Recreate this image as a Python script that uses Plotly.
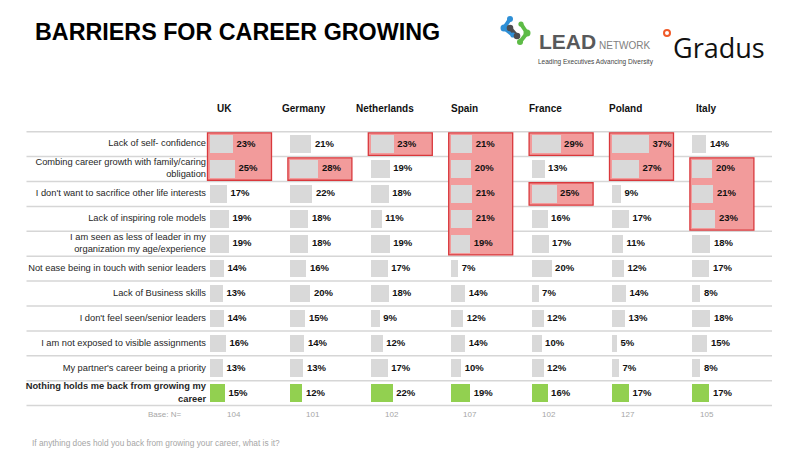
import plotly.graph_objects as go

# ---- data ----
COUNTRIES = ['UK', 'Germany', 'Netherlands', 'Spain', 'France', 'Poland', 'Italy']

BARRIERS = [
    "Lack of self- confidence",
    "Combing career growth with family/caring<br>obligation",
    "I don't want to sacrifice other life interests",
    "Lack of inspiring role models",
    "I am seen as less of leader in my<br>organization my age/experience",
    "Not ease being in touch with senior leaders",
    "Lack of Business skills",
    "I don't feel seen/senior leaders",
    "I am not exposed to visible assignments",
    "My partner's career being a priority",
    "<b>Nothing holds me back from growing my<br>career</b>",
]

uk = [23, 25, 17, 19, 19, 14, 13, 14, 16, 13, 15]
germany = [21, 28, 22, 18, 18, 16, 20, 15, 14, 13, 12]
netherlands = [23, 19, 18, 11, 19, 17, 18, 9, 12, 17, 22]
spain = [21, 20, 21, 21, 19, 7, 14, 12, 14, 10, 19]
france = [29, 13, 25, 16, 17, 20, 7, 12, 10, 12, 16]
poland = [37, 27, 9, 17, 11, 12, 14, 13, 5, 7, 17]
italy = [14, 20, 21, 23, 18, 17, 8, 18, 15, 8, 17]

BASE_N = [104, 101, 102, 107, 102, 127, 105]

# top-3 groups per country (first row, last row)
HIGHLIGHTS = {
    'UK': [(0, 1)],
    'Germany': [(1, 1)],
    'Netherlands': [(0, 0)],
    'Spain': [(0, 4)],
    'France': [(0, 0), (2, 2)],
    'Poland': [(0, 1)],
    'Italy': [(1, 3)],
}

QUESTION = 'If anything does hold you back from growing your career, what is it?'

# ---- styling / layout ----
W, H = 800, 450
OFF = 8           # page body margin, so screen px = plot px + 8
FONT = 'Liberation Sans'
GREY_BAR = '#d9d9d9'
GREEN_BAR = '#92d050'
PINK = '#f29b9b'
RED = '#d9383c'
LINE = '#d6d6d6'

COL_X0 = 210      # screen x of first column bar start (1 unit = 1 px = 1 %)
COL_STEP = 80.4
HEAD_X0, HEAD_STEP = 224, 80.3
BASEN_X0, BASEN_STEP = 234, 78.8

ROW_PX = 24.9     # row height in px
ROW0_PX = 144.15  # screen y of first row centre

series = [uk, germany, netherlands, spain, france, poland, italy]
n_rows = len(BARRIERS)
rows = list(range(n_rows))

y_top = -(ROW0_PX - OFF) / ROW_PX
y_bot = y_top + H / ROW_PX


def px(x):
    return (x - OFF) / W


def py(y):
    return 1 - (y - OFF) / H


fig = go.Figure()

shapes = []
# row separators
for r in range(n_rows + 1):
    shapes.append(dict(type='line', xref='x', yref='y', x0=26.5, x1=772,
                       y0=r - 0.5, y1=r - 0.5, layer='below',
                       line=dict(color=LINE, width=1.5)))

# highlight boxes
for ci, c in enumerate(COUNTRIES):
    base = COL_X0 + COL_STEP * ci
    for r0, r1 in HIGHLIGHTS.get(c, []):
        shapes.append(dict(type='rect', xref='x', yref='y',
                           x0=base - 2.5, x1=base + 61.5,
                           y0=r0 - 0.45, y1=r1 + 0.45, layer='below',
                           fillcolor=PINK, line=dict(color=RED, width=1.3)))

for ci, (c, vals) in enumerate(zip(COUNTRIES, series)):
    base = COL_X0 + COL_STEP * ci
    colors = [GREY_BAR] * (n_rows - 1) + [GREEN_BAR]
    fig.add_trace(go.Bar(y=rows, x=vals, base=[base] * n_rows, orientation='h',
                         width=0.71, marker=dict(color=colors, line=dict(width=0)),
                         showlegend=False, hoverinfo='skip', name=c))
    fig.add_trace(go.Scatter(y=rows, x=[base + v + 3.5 for v in vals], mode='text',
                             text=[f'{v}%' for v in vals], textposition='middle right',
                             textfont=dict(family=FONT, size=9.5, color='#111', weight='bold'),
                             showlegend=False, hoverinfo='skip'))

# row labels
fig.add_trace(go.Scatter(y=rows, x=[206] * n_rows, mode='text', text=BARRIERS,
                         textposition='middle left',
                         textfont=dict(family=FONT, size=9.3, color='#262626'),
                         showlegend=False, hoverinfo='skip'))

ann = []
for ci, c in enumerate(COUNTRIES):
    ann.append(dict(x=HEAD_X0 + HEAD_STEP * ci, y=-1.45, xref='x', yref='y', text=f'<b>{c}</b>',
                    showarrow=False, font=dict(family=FONT, size=10, color='#111')))
    ann.append(dict(x=BASEN_X0 + BASEN_STEP * ci, y=10.84, xref='x', yref='y', text=str(BASE_N[ci]),
                    showarrow=False, font=dict(family=FONT, size=8, color='#a6a6a6')))
ann.append(dict(x=183, y=10.84, xref='x', yref='y', text='Base: N=', xanchor='right',
                showarrow=False, font=dict(family=FONT, size=8, color='#a6a6a6')))
ann.append(dict(x=px(30), y=py(443), xref='paper', yref='paper', text=QUESTION,
                xanchor='left', yanchor='middle', showarrow=False,
                font=dict(family=FONT, size=8.3, color='#a6a6a6')))
# title
ann.append(dict(x=px(33), y=py(32), xref='paper', yref='paper', text='<b>BARRIERS FOR CAREER GROWING</b>',
                xanchor='left', yanchor='middle', showarrow=False,
                font=dict(family=FONT, size=23.3, color='#000')))
# logos
ann.append(dict(x=px(537), y=py(41.5), xref='paper', yref='paper', text='<b>LEAD</b>',
                xanchor='left', yanchor='middle', showarrow=False,
                font=dict(family=FONT, size=21, color='#58595b')))
ann.append(dict(x=px(597), y=py(45.5), xref='paper', yref='paper', text='NETWORK',
                xanchor='left', yanchor='middle', showarrow=False,
                font=dict(family=FONT, size=10, color='#808080')))
ann.append(dict(x=px(596), y=py(61.5), xref='paper', yref='paper', text='Leading Executives Advancing Diversity',
                xanchor='center', yanchor='middle', showarrow=False,
                font=dict(family=FONT, size=6.5, color='#444')))
ann.append(dict(x=px(671), y=py(47), xref='paper', yref='paper', text='Gradus',
                xanchor='left', yanchor='middle', showarrow=False,
                font=dict(family='Open Sans', size=27, color='#111')))

# LEAD icon and Gradus ring (decoration)
BLUE, DARK, GREEN = '#2e8fd6', '#4d4d4f', '#5dbb46'
for (xa, ya), (xb, yb), col in [((510, 19), (504, 28), BLUE), ((504, 28), (513, 35), BLUE),
                                ((510, 28), (517, 36), DARK),
                                ((521, 24), (527, 33), GREEN), ((527, 33), (520, 42), GREEN)]:
    shapes.append(dict(type='line', xref='paper', yref='paper', x0=px(xa), y0=py(ya),
                       x1=px(xb), y1=py(yb), line=dict(color=col, width=4)))
icon = [(510, 19, 3.0, BLUE), (504, 28, 3.5, BLUE), (513, 35, 2.6, BLUE),
        (510, 28, 3.3, DARK), (517, 36, 3.3, DARK),
        (521, 24, 2.6, GREEN), (527, 33, 3.5, GREEN), (520, 42, 3.0, GREEN)]
for x, y, r, col in icon:
    shapes.append(dict(type='circle', xref='paper', yref='paper', x0=px(x - r), x1=px(x + r),
                       y0=py(y + r), y1=py(y - r), fillcolor=col, line=dict(width=0)))
shapes.append(dict(type='circle', xref='paper', yref='paper', x0=px(664), x1=px(670),
                   y0=py(36), y1=py(30), fillcolor='white', line=dict(color='#f05a28', width=2)))

fig.update_layout(
    width=W, height=H, margin=dict(l=0, r=0, t=0, b=0),
    paper_bgcolor='white', plot_bgcolor='white',
    xaxis=dict(range=[OFF, W + OFF], visible=False, fixedrange=True),
    yaxis=dict(range=[y_bot, y_top], visible=False, fixedrange=True),
    shapes=shapes, annotations=ann, bargap=0, barmode='overlay',
)

fig.write_html('out.html')
